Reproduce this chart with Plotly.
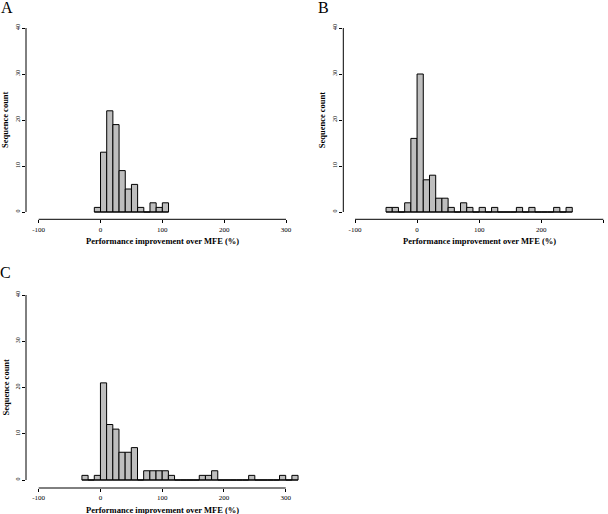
import plotly.graph_objects as go

W, H = 608, 514
BIN_WIDTH = 10

x_ticks = [-100, 0, 100, 200, 300]
x_tick_labels = ["-100", "0", "100", "200", "300"]
y_ticks = [0, 10, 20, 30, 40]
y_tick_labels = ["0", "10", "20", "30", "40"]
panel_labels = ["A", "B", "C"]
x_title = "Performance improvement over MFE (%)"
y_title = "Sequence count"

# histogram counts (bins of width 10 starting at *_start)
a_start = -10
a_counts = [1, 13, 22, 19, 9, 5, 6, 1, 0, 2, 1, 2]
b_start = -50
b_counts = [1, 1, 0, 2, 16, 30, 7, 8, 3, 3, 1, 0, 2, 1, 0, 1, 0, 1, 0, 0,
            0, 1, 0, 1, 0, 0, 0, 1, 0, 1]
c_start = -30
c_counts = [1, 0, 1, 21, 12, 11, 6, 6, 7, 0, 2, 2, 2, 2, 1, 0, 0, 0, 0, 1,
            1, 2, 0, 0, 0, 0, 0, 1, 0, 0, 0, 0, 1, 0, 1]

# panel geometry in pixels: x of first/last x tick, y of first/last y tick,
# y of x-axis line, x of y-axis line, right edge, top edge, label position
panels = [
    dict(start=a_start, counts=a_counts, xlo=38.7, xhi=286.0, y0=212.0, ytop=28.0,
         xaxis_y=219.3, yaxis_x=26.0, right=302.0, top=20.0, lab=(6.5, 7.5)),
    dict(start=b_start, counts=b_counts, xlo=355.0, xhi=603.3, y0=212.0, ytop=28.0,
         xaxis_y=219.3, yaxis_x=343.3, right=607.0, top=20.0, lab=(323.0, 7.5)),
    dict(start=c_start, counts=c_counts, xlo=38.7, xhi=285.7, y0=480.0, ytop=295.0,
         xaxis_y=488.0, yaxis_x=26.0, right=302.0, top=287.0, lab=(5.5, 272.0)),
]

SERIF = "Liberation Serif, Times New Roman, serif"
BAR_FILL = "#bebebe"

fig = go.Figure()
shapes = []
annotations = []

for i, p in enumerate(panels):
    n = i + 1
    xa = "x" if n == 1 else f"x{n}"
    ya = "y" if n == 1 else f"y{n}"
    sx = (p["xhi"] - p["xlo"]) / (x_ticks[-1] - x_ticks[0])
    sy = (p["y0"] - p["ytop"]) / (y_ticks[-1] - y_ticks[0])
    xr = [x_ticks[0] - (p["xlo"] - p["yaxis_x"]) / sx,
          x_ticks[-1] + (p["right"] - p["xhi"]) / sx]
    yr = [y_ticks[0] - (p["xaxis_y"] - p["y0"]) / sy,
          y_ticks[-1] + (p["ytop"] - p["top"]) / sy]

    counts = p["counts"]
    lefts = [p["start"] + BIN_WIDTH * k for k in range(len(counts))]
    centers = [l + BIN_WIDTH / 2 for l in lefts]

    # baseline for empty bins (R draws zero-height rectangles)
    fig.add_trace(go.Scatter(
        x=[lefts[0], lefts[-1] + BIN_WIDTH], y=[0, 0], mode="lines",
        line=dict(color="black", width=1), xaxis=xa, yaxis=ya,
        showlegend=False, hoverinfo="skip"))
    fig.add_trace(go.Bar(
        x=centers, y=counts, width=BIN_WIDTH,
        marker=dict(color=BAR_FILL, line=dict(color="black", width=1)),
        xaxis=xa, yaxis=ya, showlegend=False))

    xkey = "xaxis" if n == 1 else f"xaxis{n}"
    ykey = "yaxis" if n == 1 else f"yaxis{n}"
    fig.layout[xkey] = dict(
        domain=[p["yaxis_x"] / W, min(p["right"] / W, 1.0)], range=xr, anchor=ya,
        tickmode="array", tickvals=x_ticks, ticktext=x_tick_labels,
        ticks="outside", ticklen=3, tickwidth=1, tickcolor="black",
        showline=False, showgrid=False, zeroline=False,
        tickfont=dict(family=SERIF, size=7, color="black"), fixedrange=True)
    fig.layout[ykey] = dict(
        domain=[1 - p["xaxis_y"] / H, 1 - p["top"] / H], range=yr, anchor=xa,
        tickmode="array", tickvals=y_ticks, ticktext=y_tick_labels,
        ticks="outside", ticklen=3, tickwidth=1, tickcolor="black",
        tickangle=-90, showline=False, showgrid=False, zeroline=False,
        tickfont=dict(family=SERIF, size=6, color="black"), fixedrange=True)

    # axis lines spanning first to last tick (R style)
    shapes.append(dict(type="line", xref="paper", yref="paper",
                       x0=p["xlo"] / W, x1=p["xhi"] / W,
                       y0=1 - p["xaxis_y"] / H, y1=1 - p["xaxis_y"] / H,
                       line=dict(color="black", width=1)))
    shapes.append(dict(type="line", xref="paper", yref="paper",
                       x0=p["yaxis_x"] / W, x1=p["yaxis_x"] / W,
                       y0=1 - p["y0"] / H, y1=1 - p["ytop"] / H,
                       line=dict(color="black", width=1)))

    annotations.append(dict(
        text=f"<b>{x_title}</b>", xref="paper", yref="paper",
        x=(p["xlo"] + p["xhi"]) / 2 / W, y=1 - (p["xaxis_y"] + 22.0) / H,
        xanchor="center", yanchor="middle", showarrow=False,
        font=dict(family=SERIF, size=8.5, color="black")))
    annotations.append(dict(
        text=f"<b>{y_title}</b>", xref="paper", yref="paper",
        x=(p["yaxis_x"] - 21) / W, y=1 - (p["y0"] + p["ytop"]) / 2 / H,
        xanchor="center", yanchor="middle", textangle=-90, showarrow=False,
        font=dict(family=SERIF, size=8.5, color="black")))
    annotations.append(dict(
        text=panel_labels[i], xref="paper", yref="paper",
        x=p["lab"][0] / W, y=1 - p["lab"][1] / H,
        xanchor="center", yanchor="middle", showarrow=False,
        font=dict(family=SERIF, size=16, color="black")))

fig.update_layout(
    width=W, height=H, margin=dict(l=0, r=0, t=0, b=0),
    paper_bgcolor="white", plot_bgcolor="white", bargap=0,
    hovermode=False,
    shapes=shapes, annotations=annotations)

fig.write_html("out.html",
               config={"displayModeBar": False, "staticPlot": True},
               post_script="document.body.style.margin='0';"
                           "document.body.style.overflow='hidden';")
